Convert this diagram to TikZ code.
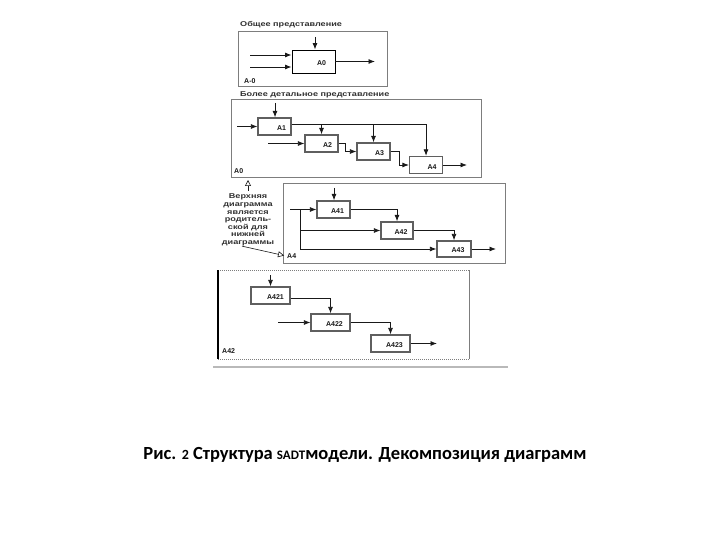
\documentclass[tikz,border=0pt]{standalone}
\usepackage{fontspec}
\setmainfont{Carlito}
\newfontfamily\dgmfont{Liberation Sans}
\newfontfamily\widefont{Liberation Sans}[FakeStretch=1.3]
\usetikzlibrary{arrows.meta}
\definecolor{frame color}{RGB}{125,125,125}
\definecolor{box color}{RGB}{95,95,95}
\definecolor{line color}{RGB}{25,25,25}

\begin{document}
\begin{tikzpicture}[
	x=1pt, y=-1pt,
	blk/.style={draw=box color, line width=1.3pt, inner sep=0pt, minimum width=33pt, minimum height=17pt},
	tag/.style={font=\dgmfont\bfseries\fontsize{7}{8}\selectfont, text=line color, inner sep=1pt},
	note/.style={font=\widefont\bfseries\fontsize{7}{7.6}\selectfont, text=line color!90, inner sep=0pt},
	flow/.style={draw=line color, line width=0.8pt, -{Latex[length=6.5pt,width=5pt]}},
	hollow/.style={draw=line color, line width=0.6pt, -{Triangle[open,length=6pt,width=6pt]}},
	frame/.style={draw=frame color, line width=1pt}]

\useasboundingbox (0,0) rectangle (720,540);

% Top diagram
\node [note, anchor=west] (t1) at (240,25) {Общее представление};
\draw [frame] (238,32) rectangle (387,87);
\node [blk, draw=black, line width=0.9pt, minimum width=43pt, minimum height=23pt,
	label={[tag, xshift=8pt, yshift=-2pt]center:A0}] (a0) at (313.5,61.5) {};
\coordinate (ctl0) at (315,37);
\draw [flow] (ctl0) -- (ctl0 |- a0.north);
\coordinate (in01) at (250,55);
\coordinate (in02) at (250,67);
\foreach \c in {in01, in02} {
    \draw [flow] (\c) -- (\c -| a0.west);
}
\coordinate (out0) at (375,61.5);
\draw [flow] (a0) -- (out0);
\node [tag, anchor=west] (lbl0) at (243,81) {A-0};

% Diagram A0
\node [note, anchor=west] (t2) at (240,95) {Более детальное представление};
\draw [frame] (231,100) rectangle (481,178);
\node [blk, label={[tag, xshift=7pt, yshift=-2pt]center:A1}] (a1) at (274.5,126.5) {};
\node [blk, label={[tag, xshift=6pt, yshift=-2pt]center:A2}] (a2) at (321.5,143.5) {};
\node [blk, label={[tag, xshift=6pt, yshift=-2pt]center:A3}] (a3) at (373.5,151.5) {};
\node [blk, label={[tag, xshift=6pt, yshift=-2pt]center:A4}] (a4) at (426,165) {};
\coordinate (ctl1) at (275,103);
\draw [flow] (ctl1) -- (ctl1 |- a1.north);
\coordinate (in1) at (237,126.5);
\draw [flow] (in1) -- (a1);
\coordinate (in2) at (268,143.5);
\draw [flow] (in2) -- (a2);
\coordinate (out1) at ([yshift=2pt]a1.east);
\draw [flow] (out1) -| (a4.north);
\foreach \b in {a2, a3} {
    \draw [flow] (out1 -| \b.north) -- (\b.north);
}
\draw [flow] (a2.east) -- ++(7,0) |- (a3.west);
\draw [flow] (a3.east) -- ++(9,0) |- (a4.west);
\coordinate (out4) at (467,165);
\draw [flow] (a4) -- (out4);
\node [tag, anchor=west] (lbl1) at (233,171) {A0};

% Remark between levels
\node [note, align=center] (remark) at (248,220) {Верхняя\\диаграмма\\является\\родитель-\\ской для\\нижней\\диаграммы};
\coordinate (up) at (248,180);
\draw [hollow] ([yshift=3pt]remark.north) -- (up);

% Diagram A4
\draw [frame] (283,184) rectangle (505,263);
\node [blk, label={[tag, xshift=4pt, yshift=-2pt]center:A41}] (a41) at (333.5,209.5) {};
\node [blk, minimum width=32pt, label={[tag, xshift=4pt, yshift=-2pt]center:A42}] (a42) at (397,230.5) {};
\node [blk, minimum width=34pt, minimum height=16pt, label={[tag, xshift=4pt, yshift=-1pt]center:A43}] (a43) at (454,249) {};
\node [tag, anchor=west] (lbl4) at (286,256) {A4};
\draw [hollow, shorten >=2pt] ([xshift=-6pt]remark.south) -- (lbl4.west);
\coordinate (ctl41) at (334,188);
\draw [flow] (ctl41) -- (ctl41 |- a41.north);
\coordinate (in41) at (290,209.5);
\coordinate (fork) at (300,209.5);
\draw [flow] (in41) -- (a41);
\foreach \b in {a42, a43} {
    \draw [flow] (fork) |- (\b.west);
}
\draw [flow] (a41.east) -| (a42.north);
\draw [flow] (a42.east) -| (a43.north);
\coordinate (out43) at (496,249);
\draw [flow] (a43) -- (out43);

% Diagram A42
\draw [draw=frame color, densely dotted, line width=1pt] (218,270) -- (469,270);
\draw [draw=frame color, densely dotted, line width=1pt] (218,359) -- (469,359);
\draw [frame] (469,270) -- (469,359);
\draw [draw=black, line width=1.5pt] (218,270) -- (218,359);
\draw [draw=gray!55, line width=2pt] (213,367) -- (508,367);
\node [blk, minimum width=39pt, label={[tag, xshift=5pt, yshift=-2pt]center:A421}] (a421) at (270.5,295.5) {};
\node [blk, minimum width=39pt, label={[tag, xshift=4pt, yshift=-2pt]center:A422}] (a422) at (330.5,322.5) {};
\node [blk, minimum width=39pt, label={[tag, xshift=4pt, yshift=-2pt]center:A423}] (a423) at (390.5,343.5) {};
\coordinate (ctl421) at (270.5,275);
\draw [flow] (ctl421) -- (a421);
\draw [flow] ([yshift=-2.5pt]a421.east) -| (a422.north);
\coordinate (in422) at (278,322.5);
\draw [flow] (in422) -- (a422);
\draw [flow] (a422.east) -| (a423.north);
\coordinate (out423) at (437,343.5);
\draw [flow] (a423) -- (out423);
\node [tag, anchor=west] (lbl42) at (221,351) {A42};

% Caption
\node [font=\bfseries\fontsize{18.5}{22}\selectfont] (cap) at (365,455)
	{Рис. {\fontsize{14}{16}\selectfont 2} Структура {\fontsize{13}{15}\selectfont SADT}модели. Декомпозиция диаграмм};

\end{tikzpicture}
\end{document}
